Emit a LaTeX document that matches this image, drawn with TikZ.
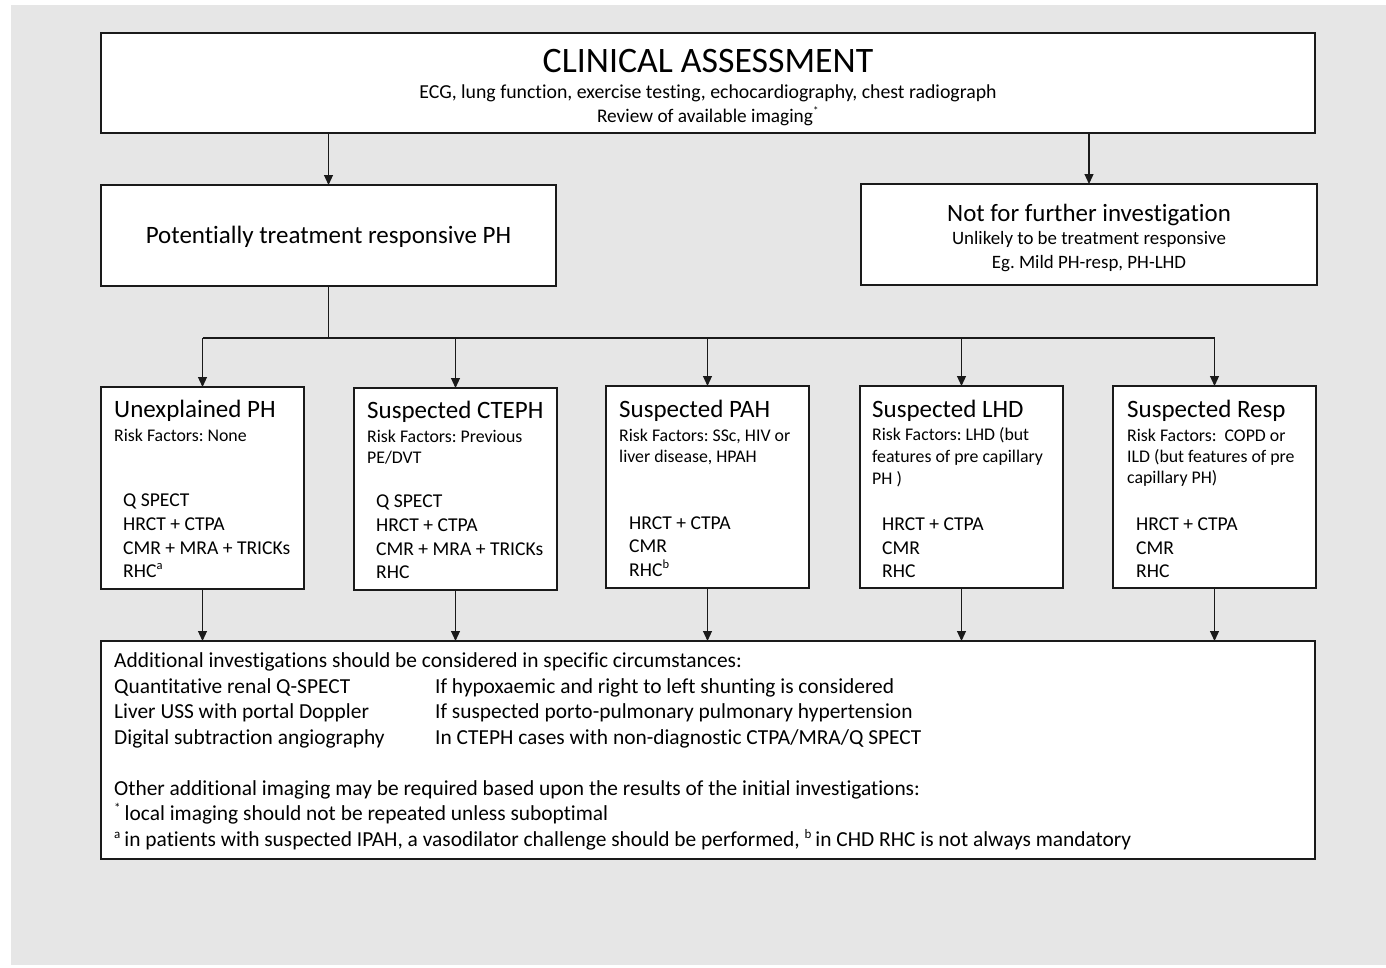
\documentclass[tikz,border=0pt]{standalone}
\usepackage{fontspec}
\setmainfont{Carlito}[Ligatures=NoCommon]
\usetikzlibrary{arrows.meta,positioning,calc}
\definecolor{paper}{HTML}{E6E6E6}
\definecolor{ink}{HTML}{1A1A1A}
\newcommand{\fsz}[1]{\fontsize{#1}{#1}\selectfont}
\frenchspacing

\begin{document}
\begin{tikzpicture}[x=1pt,y=-1pt,
  box/.style={draw=ink,line width=1.6pt,fill=white,inner sep=0pt,outer sep=0pt,anchor=north west},
  link/.style={draw=ink,line width=1.1pt},
  arrow/.style={link,-{Triangle[length=10pt,width=9pt]}},
  txt/.style={inner sep=0pt,anchor=base west,text=black},
  ctr/.style={inner sep=0pt,anchor=base,text=black},
  head/.style={txt,font=\fsz{25}},
  risk/.style={txt,font=\fsz{17.8}},
  test/.style={txt,font=\fsz{19.6}},
  note/.style={txt,font=\fsz{21.4}}]

\useasboundingbox (0,0) rectangle (1386,967);
\fill[paper] (11,5) rectangle (1386,965);

% first level
\node[box,minimum width=1214pt,minimum height=100pt] (assess) at (101,33) {};
\node[ctr,font=\fsz{35.8}] (assessTitle) at (708,72) {CLINICAL ASSESSMENT};
\node[ctr,font=\fsz{19.8}] (assessList) at (708,98) {ECG, lung function, exercise testing, echocardiography, chest radiograph};
\node[ctr,font=\fsz{19.3}] (assessReview) at (708,122) {Review of available imaging\textsuperscript{\fsz{11}*}};

\node[box,minimum width=455pt,minimum height=101pt] (treat) at (101,185) {};
\node[ctr,font=\fsz{25}] (treatText) at (treat.center) [yshift=-8pt] {Potentially treatment responsive PH};

\node[box,minimum width=456pt,minimum height=101pt] (nofurther) at (861,184) {};
\node[ctr,font=\fsz{24.9}] (nofurtherTitle) at (1089,221) {Not for further investigation};
\node[ctr,font=\fsz{18.9}] (nofurtherWhy) at (1089,244) {Unlikely to be treatment responsive};
\node[ctr,font=\fsz{18.9}] (nofurtherEg) at (1089,268) {Eg. Mild PH-resp, PH-LHD};

\draw[arrow] (assess.south -| treat.north) -- (treat.north);
\draw[arrow] (assess.south -| nofurther.north) -- (nofurther.north);

% suspected groups
\foreach \b/\x/\y in {unexpl/101/387,cteph/354/388,pah/606/386,lhd/860/386,resp/1113/386}{
  \node[box,minimum width=203pt,minimum height=202pt] (\b) at (\x,\y) {};
}
\node[box,minimum width=1214pt,minimum height=218pt] (extra) at (101,641) {};

\coordinate (split) at ($(treat.south)+(0,52)$);
\draw[link] (treat.south) -- (split);
\draw[link] (split -| unexpl) -- (split -| resp);
\foreach \b in {unexpl,cteph,pah,lhd,resp}{
  \draw[arrow] (split -| \b) -- (\b.north);
  \draw[arrow] (\b.south) -- (\b.south |- extra.north);
}

% group texts
\node[head] (unexplHead) at (114,417) {Unexplained PH};
\node[risk] (unexplRisk) at (114,441) {Risk Factors: None};
\node[test] (unexplT1) at (123,506) {Q SPECT};
\node[test] (unexplT2) at (123,530) {HRCT + CTPA};
\node[test] (unexplT3) at (123,554) {CMR + MRA + TRICKs};
\node[test] (unexplT4) at (123,577) {RHC\textsuperscript{\fsz{12.5}a}};

\node[head] (ctephHead) at (367,418) {Suspected CTEPH};
\node[risk] (ctephRisk1) at (367,442) {Risk Factors: Previous};
\node[risk] (ctephRisk2) at (367,463) {PE/DVT};
\node[test] (ctephT1) at (376,507) {Q SPECT};
\node[test] (ctephT2) at (376,531) {HRCT + CTPA};
\node[test] (ctephT3) at (376,555) {CMR + MRA + TRICKs};
\node[test] (ctephT4) at (376,578) {RHC};

\node[head] (pahHead) at (619,417) {Suspected PAH};
\node[risk] (pahRisk1) at (619,441) {Risk Factors: SSc, HIV or};
\node[risk] (pahRisk2) at (619,462) {liver disease, HPAH};
\node[test] (pahT1) at (629,529) {HRCT + CTPA};
\node[test] (pahT2) at (629,552) {CMR};
\node[test] (pahT3) at (629,576) {RHC\textsuperscript{\fsz{12.5}b}};

\node[head] (lhdHead) at (872,417) {Suspected LHD};
\node[risk] (lhdRisk1) at (872,440) {Risk Factors: LHD (but};
\node[risk] (lhdRisk2) at (872,462) {features of pre capillary};
\node[risk] (lhdRisk3) at (872,484) {PH )};
\node[test] (lhdT1) at (882,530) {HRCT + CTPA};
\node[test] (lhdT2) at (882,554) {CMR};
\node[test] (lhdT3) at (882,577) {RHC};

\node[head] (respHead) at (1127,417) {Suspected Resp};
\node[risk] (respRisk1) at (1127,441) {Risk Factors:\ \ COPD or};
\node[risk] (respRisk2) at (1127,462) {ILD (but features of pre};
\node[risk] (respRisk3) at (1127,483) {capillary PH)};
\node[test] (respT1) at (1136,530) {HRCT + CTPA};
\node[test] (respT2) at (1136,554) {CMR};
\node[test] (respT3) at (1136,577) {RHC};

% additional investigations
\node[note] (extraIntro) at (114,667) {Additional investigations should be considered in specific circumstances:};
\node[note] (extraRenal) at (114,693) {Quantitative renal Q-SPECT};
\node[note] (extraLiver) at (114,718) {Liver USS with portal Doppler};
\node[note] (extraDsa) at (114,744) {Digital subtraction angiography};
\node[note] (whyRenal) at (435,693) {If hypoxaemic and right to left shunting is considered};
\node[note] (whyLiver) at (435,718) {If suspected porto-pulmonary pulmonary hypertension};
\node[note] (whyDsa) at (435,744) {In CTEPH cases with non-diagnostic CTPA/MRA/Q SPECT};
\node[note] (extraOther) at (114,795) {Other additional imaging may be required based upon the results of the initial investigations:};
\node[note] (extraStar) at (114,820) {\textsuperscript{\fsz{13}*}\,local imaging should not be repeated unless suboptimal};
\node[note] (extraFoot) at (114,846) {\textsuperscript{\fsz{13}a}\,in patients with suspected IPAH, a vasodilator challenge should be performed, \textsuperscript{\fsz{13}b}\,in CHD RHC is not always mandatory};

\end{tikzpicture}
\end{document}
